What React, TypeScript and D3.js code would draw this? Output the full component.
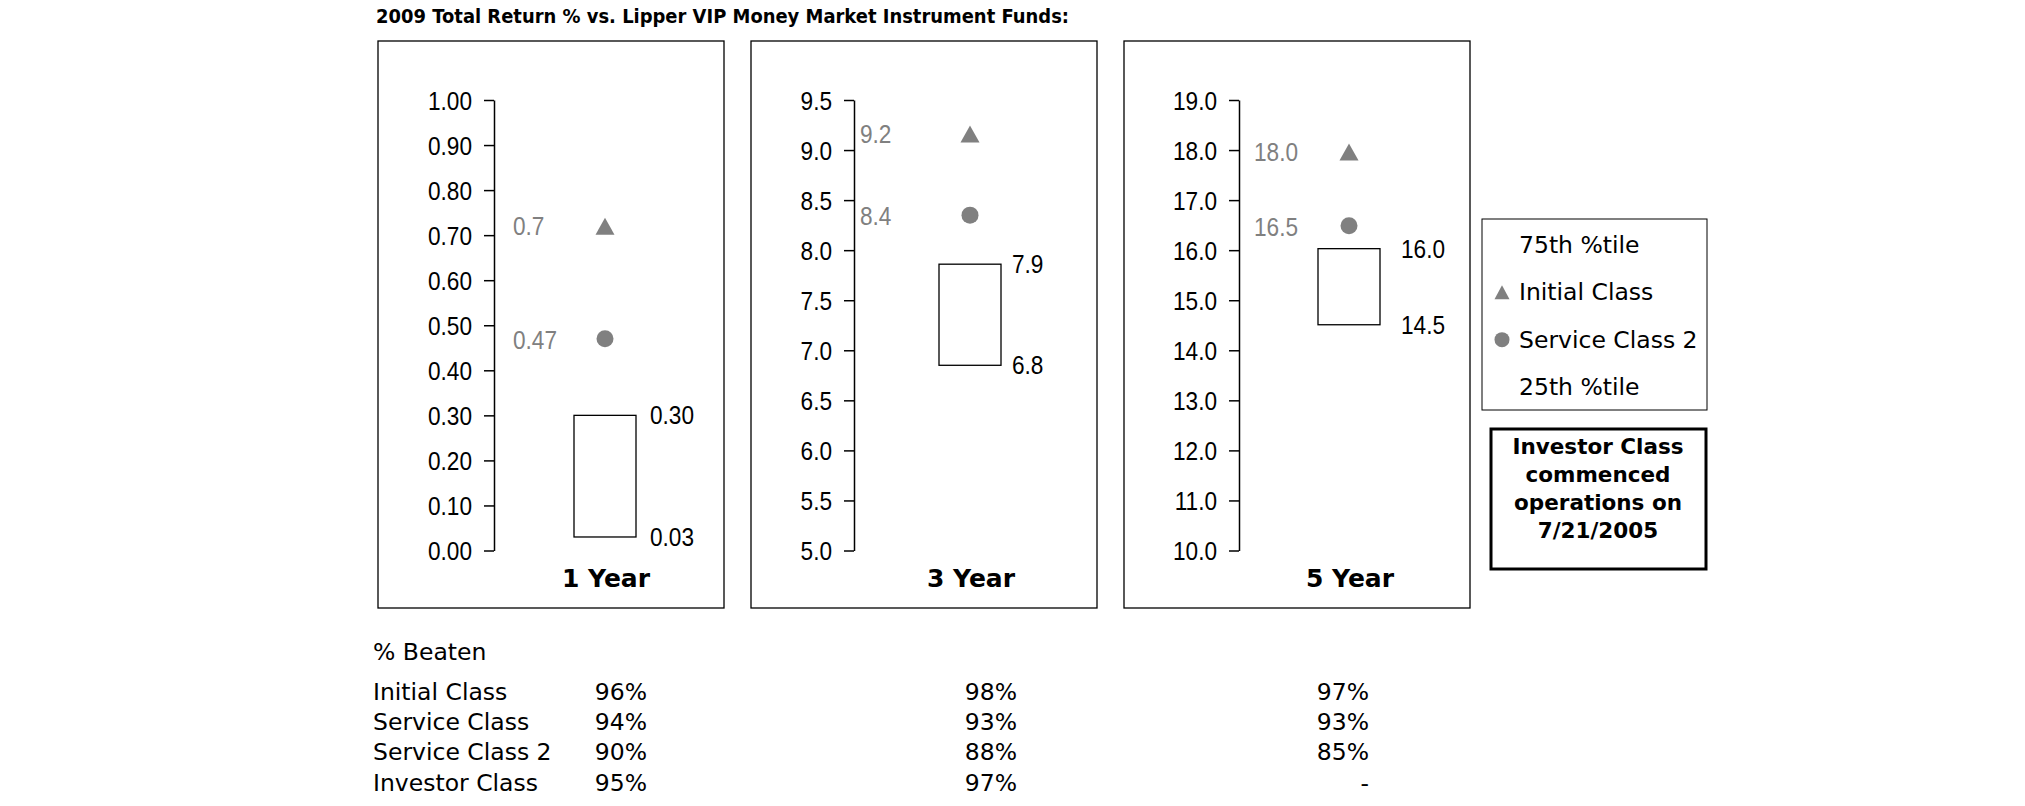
import React, { useEffect, useRef } from "react";
import * as d3 from "d3";

const width = 2025,
  height = 806;

// panels
const periods = ["1 Year", "3 Year", "5 Year"];
const axisMin = [0, 5, 10];
const axisMax = [1, 9.5, 19];
const axisStep = [0.1, 0.5, 1];
const axisDecimals = [2, 1, 1];

// Lipper quartiles
const pct75 = [0.3, 7.86, 16.03];
const pct25 = [0.03, 6.85, 14.51];
const pct75Labels = ["0.30", "7.9", "16.0"];
const pct25Labels = ["0.03", "6.8", "14.5"];

// fund returns
const initialClass = [0.72, 9.16, 17.96];
const serviceClass2 = [0.47, 8.35, 16.49];
const initialLabels = ["0.7", "9.2", "18.0"];
const service2Labels = ["0.47", "8.4", "16.5"];

// % beaten table
const classNames = ["Initial Class", "Service Class", "Service Class 2", "Investor Class"];
const beaten1y = ["96%", "94%", "90%", "95%"];
const beaten3y = ["98%", "93%", "88%", "97%"];
const beaten5y = ["97%", "93%", "85%", "-"];

const legendItems = ["75th %tile", "Initial Class", "Service Class 2", "25th %tile"];
const noteLines = ["Investor Class", "commenced", "operations on", "7/21/2005"];

// layout
const panelLeft = [378, 751, 1124];
const panelTop = 41,
  panelW = 346,
  panelH = 567;
const axisOffset = [116, 103, 115];
const boxOffset = [227, 219, 225];
const labelOffset = [19, 6, 15];
const boxLabelGap = [14, 11, 21];
const plotTop = 100,
  plotBottom = 550.5;
const boxW = 62;
const grey = "#808080";
const arial = "'Liberation Sans', Arial, sans-serif";
const verdana = "'DejaVu Sans', Verdana, sans-serif";
const numSize = 26,
  narrow = 0.87; // the chart's numbers are tall and narrow

const triangle = (w: number, h: number) => `M0,${-h / 2}L${w / 2},${h / 2}L${-w / 2},${h / 2}Z`;

function App() {
  const ref = useRef<SVGSVGElement>(null);

  useEffect(() => {
    const svg = d3.select(ref.current);
    svg.selectAll("*").remove();

    svg.append("rect").attr("width", width).attr("height", height).attr("fill", "white");

    svg
      .append("text")
      .attr("x", 376)
      .attr("y", 23)
      .attr("font-family", verdana)
      .attr("font-weight", "bold")
      .attr("font-size", 20)
      .attr("textLength", 693)
      .attr("lengthAdjust", "spacingAndGlyphs")
      .text("2009 Total Return % vs. Lipper VIP Money Market Instrument Funds:");

    // narrow number label
    const num = (sel: any, x: number, y: number, t: string, fill = "#000") =>
      sel
        .append("text")
        .attr("transform", `translate(${x},${y}) scale(${narrow},1)`)
        .attr("dominant-baseline", "central")
        .attr("font-family", arial)
        .attr("font-size", numSize)
        .attr("fill", fill)
        .text(t);

    periods.forEach((p, i) => {
      const g = svg.append("g").attr("transform", `translate(${panelLeft[i]},${panelTop})`);
      g.append("rect")
        .attr("width", panelW)
        .attr("height", panelH)
        .attr("fill", "none")
        .attr("stroke", "#000")
        .attr("stroke-width", 1.3);

      const y = d3
        .scaleLinear()
        .domain([axisMin[i], axisMax[i]])
        .range([plotBottom - panelTop, plotTop - panelTop]);
      const ticks = d3.range(axisMin[i], axisMax[i] + axisStep[i] / 2, axisStep[i]);

      const ax = g
        .append("g")
        .attr("transform", `translate(${axisOffset[i]},0)`)
        .call(
          d3
            .axisLeft(y)
            .tickValues(ticks)
            .tickSize(10)
            .tickSizeOuter(0)
            .tickPadding(12)
            .tickFormat(d3.format(`.${axisDecimals[i]}f`))
        );
      ax.selectAll("path, line").attr("stroke", "#000").attr("stroke-width", 1.5);
      ax.selectAll("text")
        .attr("x", 0)
        .attr("dy", null)
        .attr("dominant-baseline", "central")
        .attr("transform", `translate(-22,0) scale(${narrow},1)`)
        .attr("font-family", arial)
        .attr("font-size", numSize)
        .attr("fill", "#000");

      const cx = boxOffset[i];
      // quartile box
      g.append("rect")
        .attr("x", cx - boxW / 2)
        .attr("y", y(pct75[i]))
        .attr("width", boxW)
        .attr("height", y(pct25[i]) - y(pct75[i]))
        .attr("fill", "white")
        .attr("stroke", "#000")
        .attr("stroke-width", 1.3);

      num(g, cx + boxW / 2 + boxLabelGap[i], y(pct75[i]), pct75Labels[i]);
      num(g, cx + boxW / 2 + boxLabelGap[i], y(pct25[i]), pct25Labels[i]);

      // markers
      g.append("path")
        .attr("d", triangle(19, 17))
        .attr("transform", `translate(${cx},${y(initialClass[i])})`)
        .attr("fill", grey);
      g.append("circle").attr("cx", cx).attr("cy", y(serviceClass2[i])).attr("r", 8.5).attr("fill", grey);

      num(g, axisOffset[i] + labelOffset[i], y(initialClass[i]), initialLabels[i], grey);
      num(g, axisOffset[i] + labelOffset[i], y(serviceClass2[i]) + 1, service2Labels[i], grey);

      g.append("text")
        .attr("x", cx + 1)
        .attr("y", 587 - panelTop)
        .attr("text-anchor", "middle")
        .attr("font-family", verdana)
        .attr("font-weight", "bold")
        .attr("font-size", 25)
        .text(p);
    });

    // legend
    const lg = svg.append("g").attr("transform", "translate(1482,219)");
    lg.append("rect").attr("width", 225).attr("height", 191).attr("fill", "white").attr("stroke", "#000").attr("stroke-width", 1);
    const ly = d3.scalePoint().domain(legendItems).range([26, 168]);
    lg.selectAll("text.item")
      .data(legendItems)
      .join("text")
      .attr("class", "item")
      .attr("x", 37)
      .attr("y", d => ly(d) as number)
      .attr("dominant-baseline", "central")
      .attr("font-family", verdana)
      .attr("font-size", 23.5)
      .text(d => d);
    lg.append("path")
      .attr("d", triangle(15, 14))
      .attr("transform", `translate(20,${ly(legendItems[1])})`)
      .attr("fill", grey);
    lg.append("circle").attr("cx", 20).attr("cy", ly(legendItems[2]) as number).attr("r", 7.5).attr("fill", grey);

    // note box
    const nb = svg.append("g").attr("transform", "translate(1491,429)");
    nb.append("rect").attr("width", 215).attr("height", 140).attr("fill", "white").attr("stroke", "#000").attr("stroke-width", 3);
    nb.selectAll("text")
      .data(noteLines)
      .join("text")
      .attr("x", 107)
      .attr("y", (d, k) => 17 + k * 28)
      .attr("dominant-baseline", "central")
      .attr("text-anchor", "middle")
      .attr("font-family", verdana)
      .attr("font-weight", "bold")
      .attr("font-size", 21.5)
      .text(d => d);

    // % beaten table
    const tb = svg.append("g").attr("font-family", verdana).attr("font-size", 23.5).attr("dominant-baseline", "central");
    tb.append("text").attr("x", 373).attr("y", 652).text("% Beaten");
    const ry = (k: number) => 692 + k * 30.2;
    tb.selectAll("text.name")
      .data(classNames)
      .join("text")
      .attr("class", "name")
      .attr("x", 373)
      .attr("y", (d, k) => ry(k))
      .text(d => d);
    const cols = [beaten1y, beaten3y, beaten5y];
    const colRight = [647, 1017, 1369];
    cols.forEach((col, c) => {
      tb.selectAll(`text.col${c}`)
        .data(col)
        .join("text")
        .attr("class", `col${c}`)
        .attr("x", colRight[c])
        .attr("y", (d, k) => ry(k))
        .attr("text-anchor", "end")
        .text(d => d);
    });
  }, []);

  return (
    <svg
      ref={ref}
      width={width}
      height={height}
      style={{ position: "absolute", left: 0, top: 0, display: "block" }}
    />
  );
}

export default App;
